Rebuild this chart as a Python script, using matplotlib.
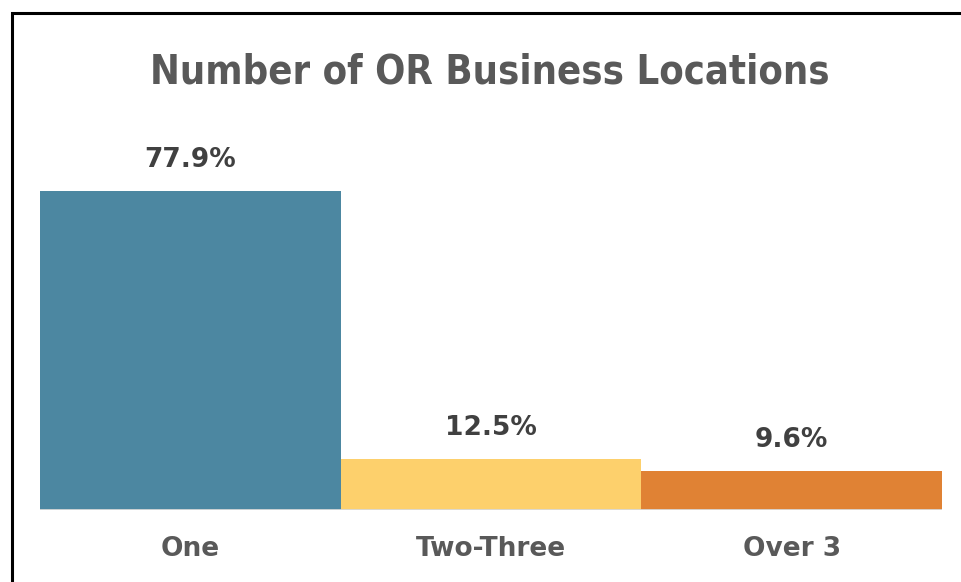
import matplotlib
matplotlib.use("Agg")
import matplotlib.pyplot as plt
from matplotlib.patches import Rectangle

categories = ["One", "Two-Three", "Over 3"]
values = [77.9, 12.5, 9.6]
labels = ["77.9%", "12.5%", "9.6%"]
colors = ["#4C87A1", "#FDD06C", "#E08234"]

W, H = 961, 582
fig = plt.figure(figsize=(W / 100, H / 100), dpi=100)

# outer frame (cut off on right and bottom like the screenshot)
fig.patches.append(Rectangle((11.5 / W, -0.1), 2.0, 1.0 - 12.5 / H + 0.1,
                             transform=fig.transFigure, fill=False,
                             edgecolor="black", linewidth=2.2))

title = fig.text(490 / W, 1 - 72 / H, "Number of OR Business Locations",
                 ha="center", va="center", fontsize=44, fontweight="bold",
                 fontstretch="condensed", color="#595959",
                 family=["DejaVu Sans"])
# shrink title to about the reference width
r = fig.canvas.get_renderer()
tw = title.get_window_extent(r).width
if tw > 680:
    title.set_fontsize(44 * 680 / tw)

lab_font = ["DejaVu Sans"]
ax = fig.add_axes([40 / W, 1 - 510 / H, 902 / W, (510 - 150) / H])
x = range(len(values))
ax.bar(x, values, width=1.0, color=colors)
ax.set_xlim(-0.5, 2.5)
ax.set_ylim(0, 77.9 * 360 / 319)
ax.axhline(0, color="#D9D9D9", linewidth=2)
for s in ax.spines.values():
    s.set_visible(False)
ax.set_yticks([])
ax.set_xticks(list(x))
ax.set_xticklabels(categories, fontsize=19, fontweight="bold", color="#595959",
                   family=lab_font)
ax.tick_params(axis="x", length=0, pad=19)
for i, v in enumerate(values):
    ax.annotate(labels[i], (i, v), xytext=(0, 13), textcoords="offset points",
                ha="center", va="bottom", fontsize=19, fontweight="bold",
                color="#404040", family=lab_font)

fig.savefig("out.png", dpi=100)
